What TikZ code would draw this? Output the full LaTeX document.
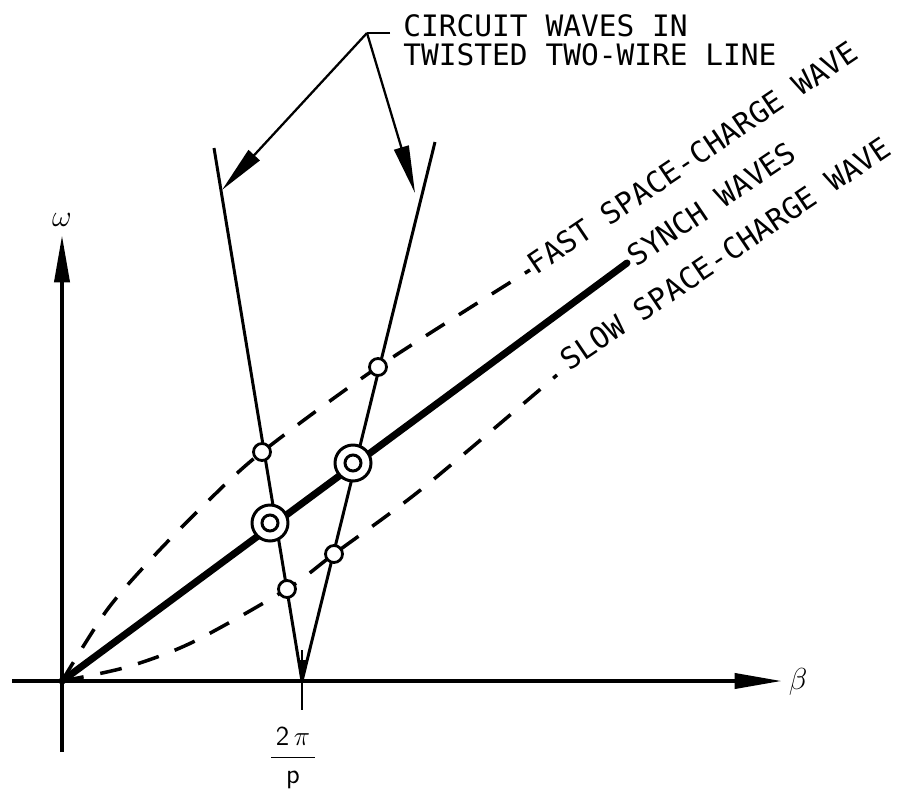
\documentclass[tikz,border=0pt]{standalone}
\usepackage{fontspec}
\usetikzlibrary{arrows.meta}
\newfontfamily\letterfont{DejaVu Sans Mono}

\begin{document}
\begin{tikzpicture}[x=0.02cm,y=-0.02cm,
  every node/.style={inner sep=0pt},
  >={Triangle[length=0.95cm,width=0.3cm]},
  lettering/.style={font=\letterfont\fontsize{16.8}{20}\selectfont,anchor=base west},
  axisline/.style={line width=2.3pt},
  wireline/.style={line width=1.7pt},
  leadline/.style={line width=1.3pt},
  sclwave/.style={line width=2pt,dash pattern=on 0.44cm off 0.34cm},
  crosspt/.style={circle,draw,line width=1.6pt,fill=white,minimum size=0.34cm},
  synchpt/.style={circle,draw,line width=1.7pt,fill=white,minimum size=0.72cm,
    path picture={\draw[line width=1.7pt] (path picture bounding box.center) circle (0.16cm);}}]
  \useasboundingbox (0,0) rectangle (910,791);
  % axes
  \coordinate (origin) at (62,681);
  \coordinate (xstart) at (12,681);
  \coordinate (xend) at (782,681);
  \coordinate (ystart) at (62,752);
  \coordinate (yend) at (62,235);
  \draw[axisline,->] (xstart) -- (xend);
  \draw[axisline,->] (ystart) -- (yend);
  \node[font=\fontsize{17}{20}\selectfont] (omega) at (62,220) {$\omega$};
  \node[font=\fontsize{17}{20}\selectfont] (beta) at (798,682) {$\beta$};
  % circuit waves
  \coordinate (apex) at (302,681);
  \coordinate (apexarr) at (302,650);
  \coordinate (tick) at (302,710);
  \coordinate (wireL) at (214,148);
  \coordinate (wireR) at (435,142);
  \draw[wireline] (apex) -- (wireL);
  \draw[wireline] (apex) -- (wireR);
  \draw[wireline] (apex) -- (tick);
  \draw[wireline,-{Triangle[length=0.42cm,width=0.15cm]}] (apexarr) -- (apex);
  \node[font=\fontsize{12}{15}\selectfont,scale=1.3] (period) at (293,758) {$\displaystyle\frac{\,\mathsf{2}\,\pi\,}{\mathsf{p}}$};
  % space-charge waves
  \draw[sclwave] plot[smooth] coordinates {(62,681) (107,610) (153,557) (207,502) (262,452) (378,367) (530,270)};
  \draw[sclwave] plot[smooth] coordinates {(62,681) (127,667) (193,642) (287,589) (334,554) (423,488) (557,375)};
  \coordinate (synchend) at (627,263);
  \draw[line width=4pt,line cap=round] (origin) -- (synchend);
  % crossings
  \node[crosspt] (fastL) at (262,452) {};
  \node[crosspt] (fastR) at (378,367) {};
  \node[crosspt] (slowL) at (287,589) {};
  \node[crosspt] (slowR) at (334,554) {};
  \node[synchpt] (synchL) at (270,523) {};
  \node[synchpt] (synchR) at (353,463) {};
  % labels
  \node[lettering] (circA) at (403,36) {CIRCUIT WAVES IN};
  \node[lettering] (circB) at (403,65) {TWISTED TWO-WIRE LINE};
  \coordinate (lead) at (367,33);
  \coordinate (leadend) at (390,33);
  \coordinate (tipL) at (222,190);
  \coordinate (tipR) at (415,193);
  \draw[leadline] (leadend) -- (lead);
  \draw[leadline,->] (lead) -- (tipL);
  \draw[leadline,->] (lead) -- (tipR);
  \node[lettering,rotate=34] (fastlbl) at (536,276) {FAST SPACE-CHARGE WAVE};
  \node[lettering,rotate=34] (synchlbl) at (636,268) {SYNCH WAVES};
  \node[lettering,rotate=34] (slowlbl) at (569,372) {SLOW SPACE-CHARGE WAVE};
\end{tikzpicture}
\end{document}
